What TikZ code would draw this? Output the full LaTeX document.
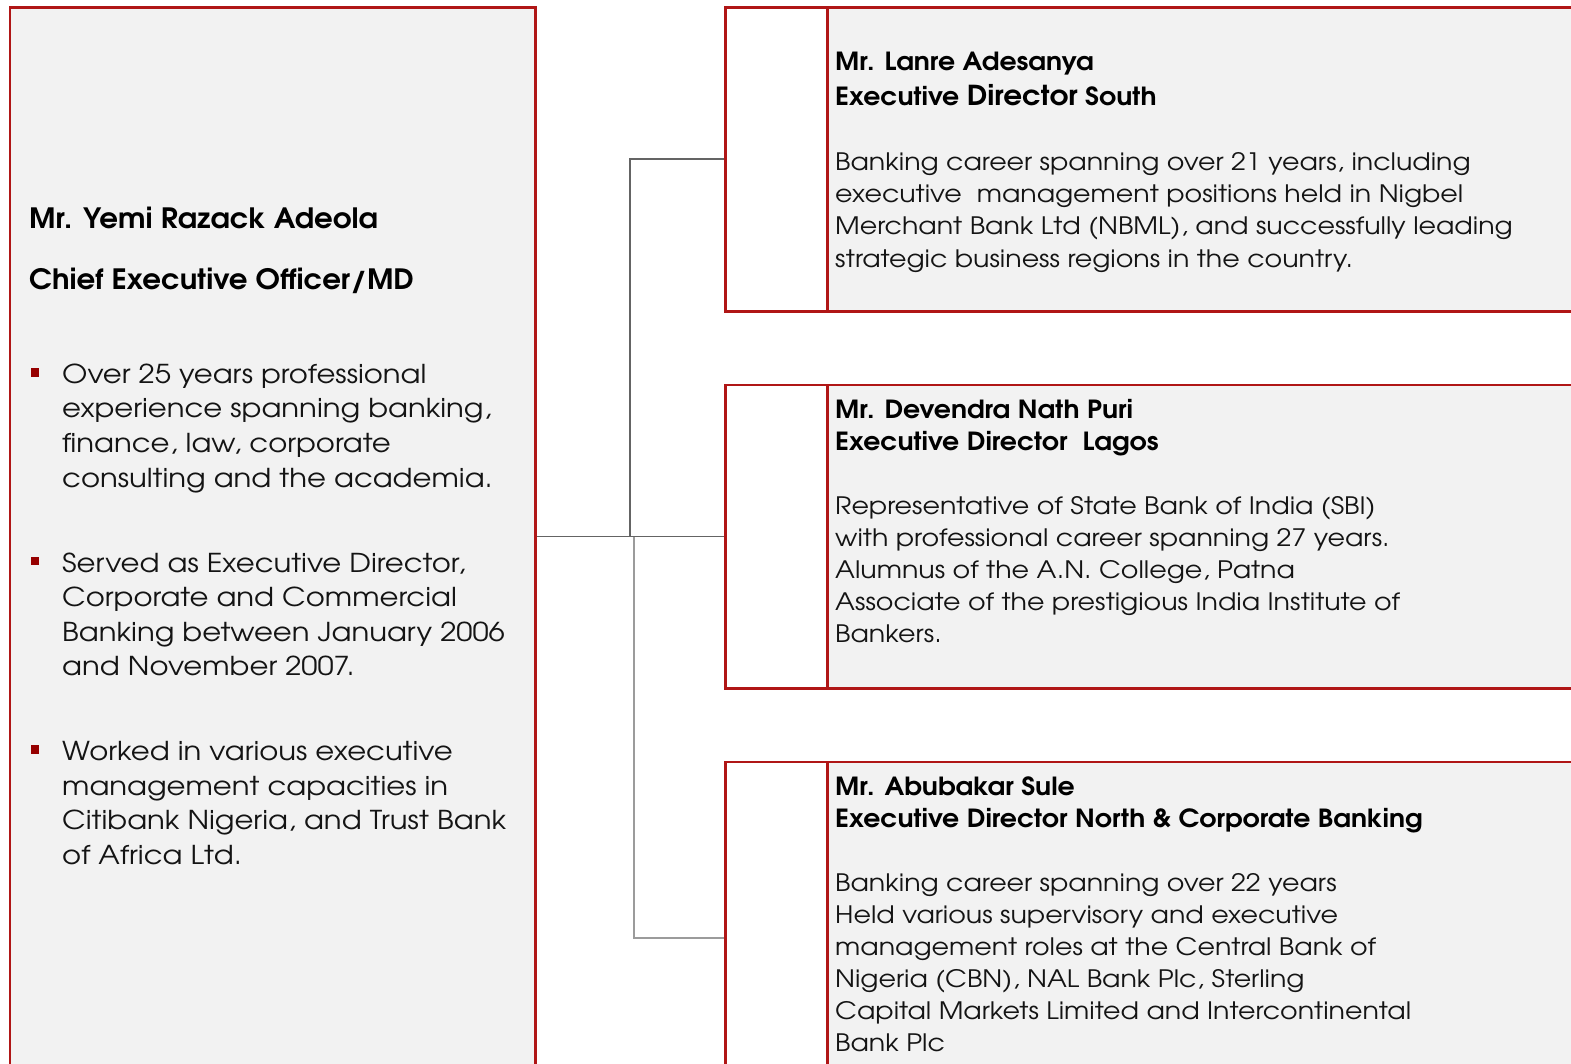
\documentclass[tikz,border=0pt]{standalone}
\usepackage{fontspec}
\setmainfont{TeX Gyre Adventor}
\newfontfamily\bodyfont{TeX Gyre Adventor}[FakeStretch=1.12]
\newfontfamily\edheadfont{TeX Gyre Adventor}[FakeStretch=1.07]
\newfontfamily\ceoheadfont{TeX Gyre Adventor}[FakeStretch=1.045]
\usetikzlibrary{calc}
\definecolor{bred}{RGB}{176,22,22}
\definecolor{panel}{RGB}{242,242,242}
\definecolor{cdark}{RGB}{100,100,100}
\definecolor{clight}{RGB}{155,155,155}
\definecolor{bul}{RGB}{150,0,0}
\definecolor{ink}{RGB}{20,20,20}
\newcommand\linestack[2]{\vtop{\baselineskip=#1\relax\lineskiplimit=-100pt #2}}
\begin{document}
\begin{tikzpicture}[x=1pt,y=-1pt,
  panelbox/.style={draw=bred, line width=2.5pt, fill=panel, rectangle, inner sep=0pt, anchor=north west},
  sidebox/.style={draw=bred, line width=2.5pt, fill=white, rectangle, inner sep=0pt, anchor=north west},
  conn/.style={draw=cdark, line width=1.6pt},
  connlight/.style={draw=clight, line width=1.6pt},
  ceobody/.style={anchor=base west, inner sep=0pt, text=ink, font=\bodyfont\fontsize{26}{30}\selectfont},
  body/.style={anchor=base west, inner sep=0pt, text=ink, font=\bodyfont\fontsize{24}{30}\selectfont},
  head/.style={anchor=base west, inner sep=0pt, text=black, font=\edheadfont\bfseries\fontsize{25}{28}\selectfont},
  ceohead/.style={anchor=base west, inner sep=0pt, text=black, font=\ceoheadfont\bfseries\fontsize{28}{32}\selectfont},
  bulletmark/.style={fill=bul, inner sep=0pt, minimum size=8.5pt, rectangle},
]
\useasboundingbox (0,0) rectangle (1571,1063);
\fill[white] (0,0) rectangle (1571,1063);
% CEO box
\node[panelbox, minimum width=525.5pt, minimum height=1100pt] (ceo) at (8.5,6) {};
% director boxes
\node[sidebox, minimum width=900pt, minimum height=304pt] (ed1) at (724,6) {};
\node[panelbox, minimum width=800pt, minimum height=304pt] (ed1t) at (826,6) {};
\node[sidebox, minimum width=900pt, minimum height=303.5pt] (ed2) at (724,383.5) {};
\node[panelbox, minimum width=800pt, minimum height=303.5pt] (ed2t) at (826,383.5) {};
\node[sidebox, minimum width=900pt, minimum height=353pt] (ed3) at (724,760.5) {};
\node[panelbox, minimum width=800pt, minimum height=353pt] (ed3t) at (826,760.5) {};
% connectors
\coordinate (j1) at ($(ceo.east |- ed2.west)!0.5!(ed2.west)$);
\coordinate (j2) at ([xshift=3.5pt]j1);
\draw[connlight] (j2) |- (ed3.west);
\draw[conn] (ceo.east |- ed2.west) -- (ed2.west);
\draw[conn] (j1) |- (ed1.west);
% CEO text
\node[ceohead] (ceoname) at (29,228) {Mr. Yemi Razack Adeola};
\node[ceohead] (ceorole) at (29,289.5) {Chief Executive Officer/MD};
\node[bulletmark] (m1) at (35,372.5) {};
\node[ceobody] (b1) at (62,383.3) {\linestack{34.6pt}{\hbox{Over 25 years professional}\hbox{experience spanning banking,}\hbox{finance, law, corporate}\hbox{consulting and the academia.}}};
\node[bulletmark] (m2) at (35,561) {};
\node[ceobody] (b2) at (62,572) {\linestack{34.6pt}{\hbox{Served as Executive Director,}\hbox{Corporate and Commercial}\hbox{Banking between January 2006}\hbox{and November 2007.}}};
\node[bulletmark] (m3) at (35,749.5) {};
\node[ceobody] (b3) at (62,760.5) {\linestack{34.6pt}{\hbox{Worked in various executive}\hbox{management capacities in}\hbox{Citibank Nigeria, and Trust Bank}\hbox{of Africa Ltd.}}};
% ED 1
\node[head] (n1) at (835,70.7) {\linestack{34.3pt}{\hbox{Mr. Lanre Adesanya}\hbox{Executive {\fontsize{27.5}{28}\selectfont Director} South}}};
\node[body] (d1) at (835,170.7) {\linestack{32.1pt}{\hbox{Banking career spanning over 21 years, including}\hbox{executive\ \ management positions held in Nigbel}\hbox{Merchant Bank Ltd (NBML), and successfully leading}\hbox{strategic business regions in the country.}}};
% ED 2
\node[head] (n2) at (835,418.3) {\linestack{32pt}{\hbox{Mr. Devendra Nath Puri}\hbox{Executive Director\ \ Lagos}}};
\node[body] (d2) at (835,514) {\linestack{32pt}{\hbox{Representative of State Bank of India (SBI)}\hbox{with professional career spanning 27 years.}\hbox{Alumnus of the A.N. College, Patna}\hbox{Associate of the prestigious India Institute of}\hbox{Bankers.}}};
% ED 3
\node[head] (n3) at (835,795) {\linestack{32.3pt}{\hbox{Mr. Abubakar Sule}\hbox{Executive Director North \& Corporate Banking}}};
\node[body] (d3) at (835,891.5) {\linestack{31.9pt}{\hbox{Banking career spanning over 22 years}\hbox{Held various supervisory and executive}\hbox{management roles at the Central Bank of}\hbox{Nigeria (CBN), NAL Bank Plc, Sterling}\hbox{Capital Markets Limited and Intercontinental}\hbox{Bank Plc}}};
\end{tikzpicture}
\end{document}
